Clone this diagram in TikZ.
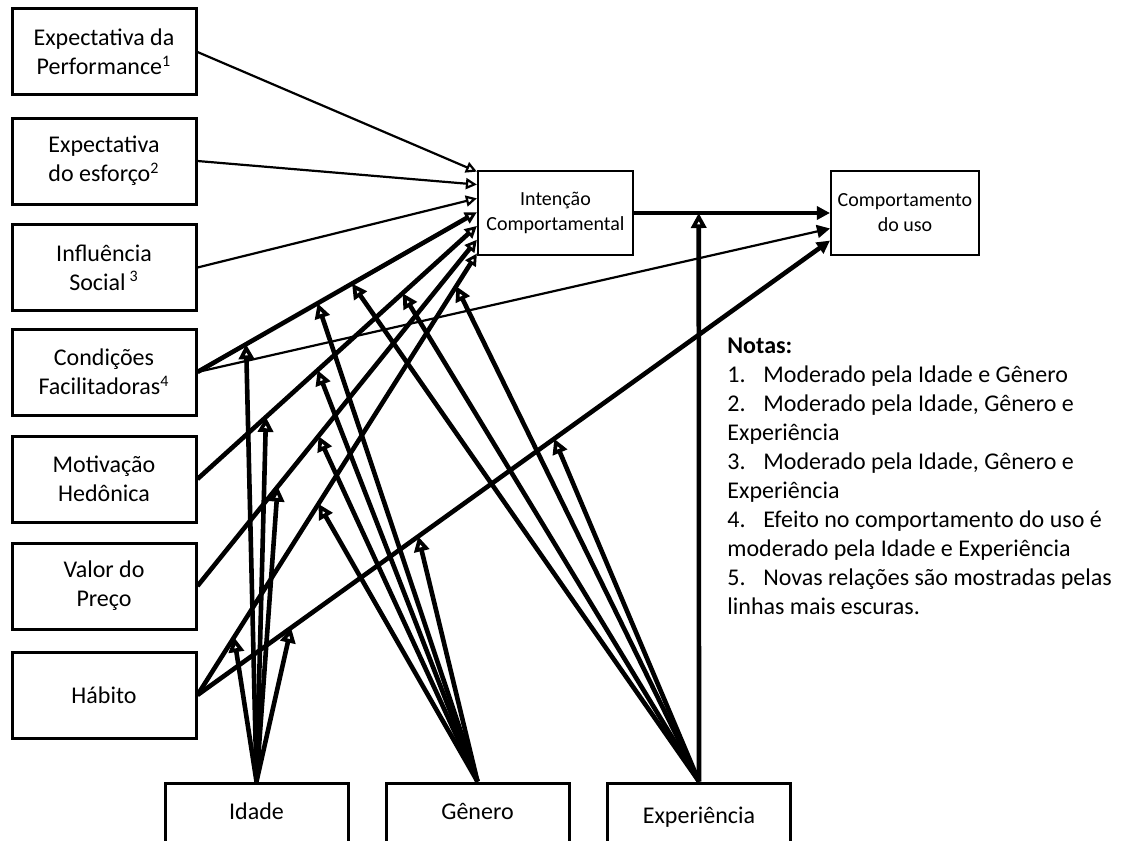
\documentclass[tikz,border=0pt]{standalone}
\usepackage{fontspec}
\setmainfont{Carlito}
\usetikzlibrary{arrows.meta,calc}

\begin{document}
\begin{tikzpicture}[x=0.5pt, y=-0.5pt,
    every node/.style={font=\fontsize{12}{14.5}\selectfont}]
  \tikzset{
    fator/.style={draw, line width=1.5pt, minimum width=92pt, minimum height=43pt, align=center},
    moder/.style={draw, line width=1.5pt, minimum width=91.5pt, minimum height=31pt, text height=8pt, text depth=3pt},
    construto/.style={draw, line width=1.1pt, minimum height=42pt, align=center, font=\fontsize{10}{12.5}\selectfont},
    antiga/.style={line width=1.1pt, -{Triangle[open, length=5.5pt, width=5.5pt, line width=1.1pt]}},
    nova/.style={line width=2.3pt, -{Triangle[open, length=6pt, width=6pt, line width=1.4pt]}},
    seta/.style={-{Triangle[length=6.5pt, width=6.5pt]}},
    modera/.style={line width=2.3pt, -{Triangle[open, length=7.5pt, width=7.5pt, line width=2pt]}},
    nota/.style={anchor=base west, inner sep=0pt}
  }
  \useasboundingbox (0,0) rectangle (1133,840);

  % fatores
  \node[fator] (pe) at (104,52) {Expectativa da\\Performance\textsuperscript{1}};
  \node[fator] (ee) at (104,161) {Expectativa\\do esforço\textsuperscript{2}};
  \node[fator] (is) at (104,267.5) {Influência\\Social\,\textsuperscript{3}};
  \node[fator] (cf) at (104,372) {Condições\\Facilitadoras\textsuperscript{4}};
  \node[fator] (mh) at (104,479) {Motivação\\Hedônica};
  \node[fator] (vp) at (104,586) {Valor do\\Preço};
  \node[fator] (hb) at (104,695) {Hábito};

  \node[construto, minimum width=77.5pt] (bi) at (555.5,213) {Intenção\\Comportamental};
  \node[construto, minimum width=72pt] (ub) at (905,213) {Comportamento\\do uso};

  % moderadores
  \node[moder] (id) at (256.5,814) {Idade};
  \node[moder] (ge) at (477.5,814) {Gênero};
  \node[moder, text height=10pt, text depth=1pt] (ex) at (699,814) {Experiência};

  \foreach \f/\t in {pe/0.02, ee/0.17, is/0.33, cf/0.49, mh/0.65, vp/0.81, hb/0.97}
    \coordinate (bi-\f) at ($(bi.north west)!\t!(bi.south west)$);
  \coordinate (ub-cf) at ($(ub.north west)!0.68!(ub.south west)$);
  \coordinate (ub-hb) at ($(ub.north west)!0.82!(ub.south west)$);

  % relacoes
  \draw[antiga] (pe.east) -- (bi-pe);
  \draw[antiga] (ee.east) -- (bi-ee);
  \draw[antiga] (is.east) -- (bi-is);
  \draw[line width=1.1pt, seta] (cf.east) -- (ub-cf);
  \draw[nova] (cf.east) -- coordinate[pos=0.174] (cf-id) coordinate[pos=0.43] (cf-ge)
    coordinate[pos=0.553] (cf-ex) (bi-cf);
  \draw[nova] (mh.east) -- coordinate[pos=0.245] (mh-id) coordinate[pos=0.43] (mh-ge)
    coordinate[pos=0.734] (mh-ex) (bi-mh);
  \draw[nova] (vp.east) -- coordinate[pos=0.287] (vp-id) coordinate[pos=0.433] (vp-ge) (bi-vp);
  \draw[nova] (hb.east) -- coordinate[pos=0.131] (hb-id) coordinate[pos=0.433] (hb-ge)
    coordinate[pos=0.926] (hb-ex) (bi-hb);
  \draw[line width=2.3pt, seta] (hb.east) -- coordinate[pos=0.148] (hu-id)
    coordinate[pos=0.349] (hu-ge) coordinate[pos=0.564] (hu-ex) (ub-hb);
  \draw[line width=1.6pt, seta] (bi.east) -- coordinate[pos=0.33] (bi-ub) (ub.west);

  % efeitos moderadores
  \foreach \a in {cf-id, mh-id, vp-id, hb-id, hu-id}
    \draw[modera] (id.north) -- (\a);
  \foreach \a in {cf-ge, mh-ge, vp-ge, hb-ge, hu-ge}
    \draw[modera] (ge.north) -- (\a);
  \foreach \a in {cf-ex, mh-ex, hb-ex, hu-ex, bi-ub}
    \draw[modera] (ex.north) -- (\a);

  % notas
  \foreach \linha [count=\i from 0] in {
      {\textbf{Notas:}},
      {\makebox[18pt][l]{1.}Moderado pela Idade e Gênero},
      {\makebox[18pt][l]{2.}Moderado pela Idade, Gênero e},
      {Experiência},
      {\makebox[18pt][l]{3.}Moderado pela Idade, Gênero e},
      {Experiência},
      {\makebox[18pt][l]{4.}Efeito no comportamento do uso é},
      {moderado pela Idade e Experiência},
      {\makebox[18pt][l]{5.}Novas relações são mostradas pelas},
      {linhas mais escuras.}}
    \node[nota] (nota\i) at (727,{353+29.1*\i}) {\linha};
\end{tikzpicture}
\end{document}
